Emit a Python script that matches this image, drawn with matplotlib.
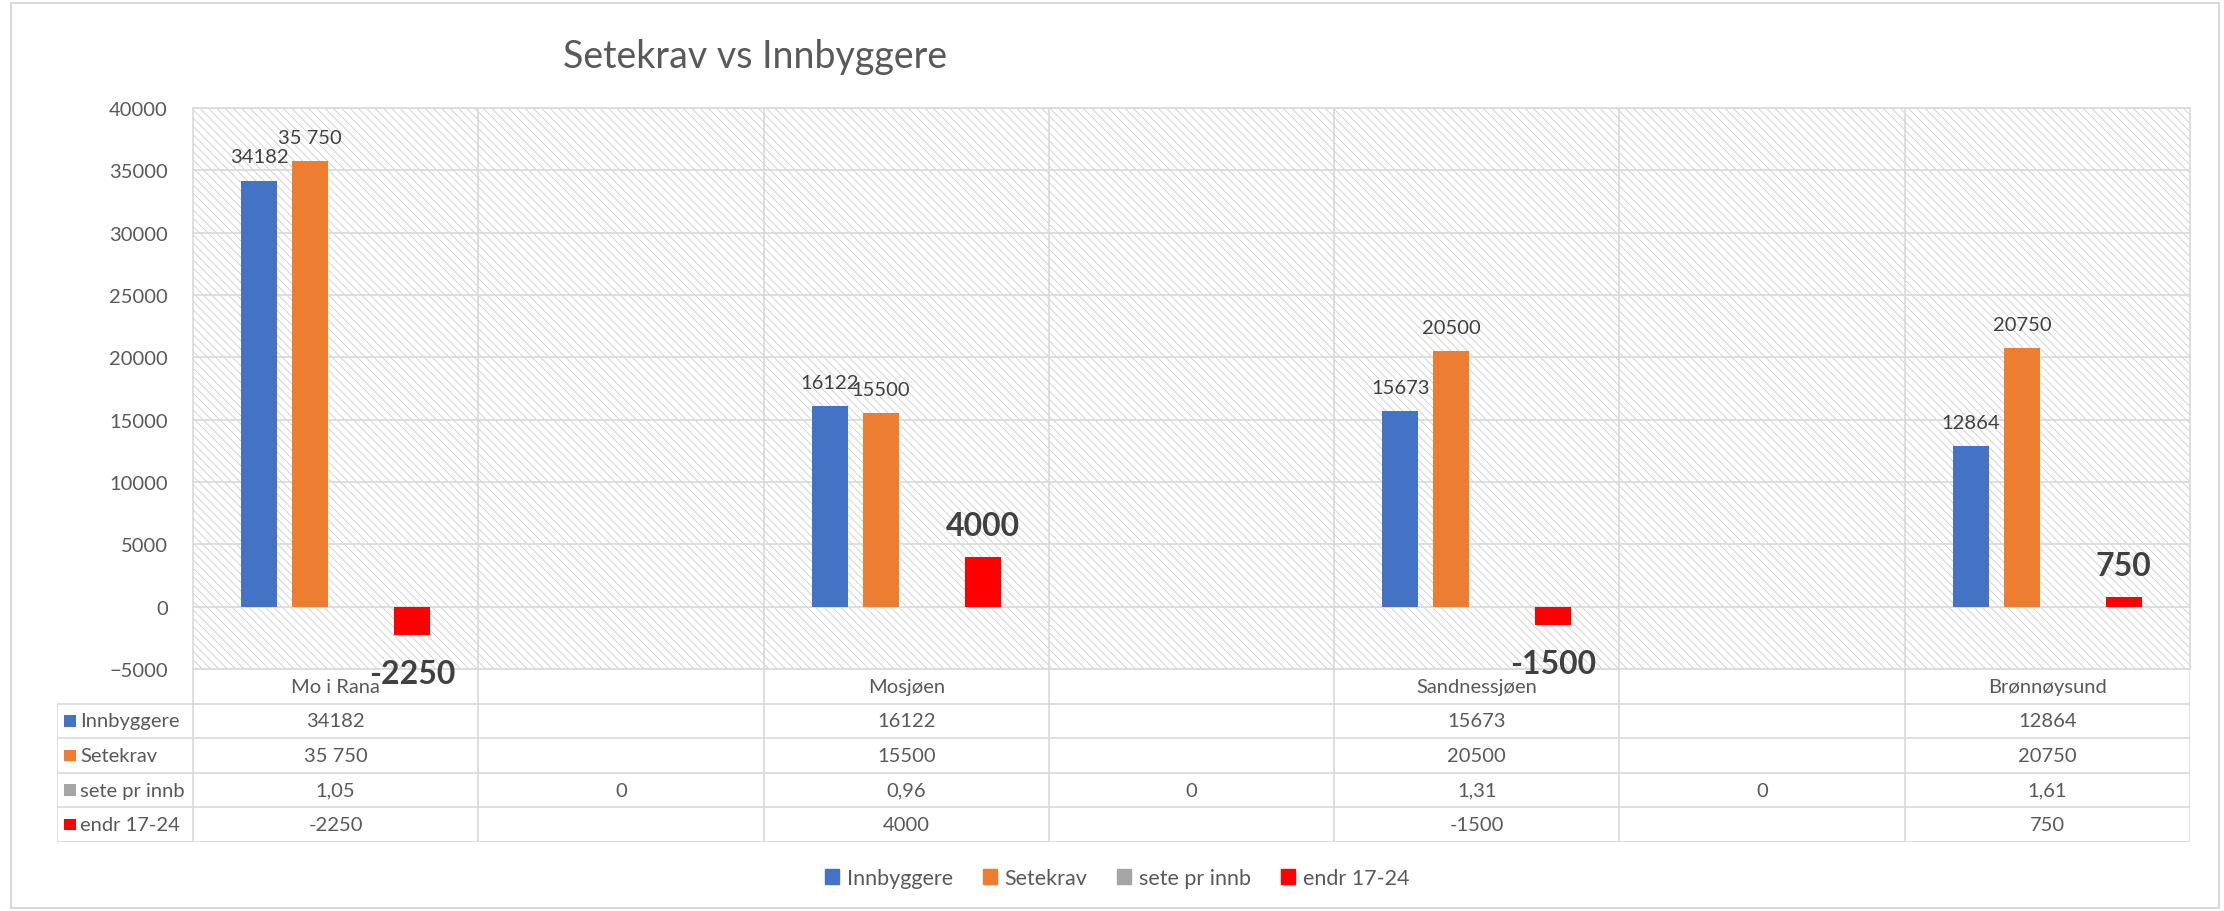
import numpy as np
import matplotlib.pyplot as plt
from matplotlib.patches import Rectangle, Patch

plt.rcParams['font.family'] = ['Lato', 'DejaVu Sans']
plt.rcParams['hatch.linewidth'] = 0.6
plt.rcParams['hatch.color'] = '#cccccc'

# data
categories = ['Mo i Rana', '', 'Mosjøen', '', 'Sandnessjøen', '', 'Brønnøysund']
series = ['Innbyggere', 'Setekrav', 'sete pr innb', 'endr 17-24']
innbyggere = [34182, np.nan, 16122, np.nan, 15673, np.nan, 12864]
setekrav = [35750, np.nan, 15500, np.nan, 20500, np.nan, 20750]
sete_pr_innb = [1.05, 0, 0.96, 0, 1.31, 0, 1.61]
endring = [-2250, np.nan, 4000, np.nan, -1500, np.nan, 750]

innbyggere_txt = ['34182', '', '16122', '', '15673', '', '12864']
setekrav_txt = ['35 750', '', '15500', '', '20500', '', '20750']
sete_txt = ['1,05', '0', '0,96', '0', '1,31', '0', '1,61']
endring_txt = ['-2250', '', '4000', '', '-1500', '', '750']

colors = ['#4472C4', '#ED7D31', '#A5A5A5', '#FF0000']
grid = '#d9d9d9'
txtcol = '#595959'

W, H = 2224, 912
fig = plt.figure(figsize=(W / 100, H / 100), dpi=100)


def box(l, t, r, b):
    return [l / W, 1 - b / H, (r - l) / W, (b - t) / H]


ax = fig.add_axes(box(193, 109, 2190, 670))
x = np.arange(len(categories))
step = 0.1786
width = 0.126

ax.add_patch(Rectangle((0, 0), 1, 1, transform=ax.transAxes, facecolor='white',
                       edgecolor='#cccccc', hatch='\\\\\\\\', lw=0, zorder=0))

values = [innbyggere, setekrav, sete_pr_innb, endring]
for i, (vals, c) in enumerate(zip(values, colors)):
    ax.bar(x + (i - 1.5) * step, vals, width, color=c, zorder=2)

# data labels
for i, (vals, labels) in enumerate([(innbyggere, innbyggere_txt), (setekrav, setekrav_txt)]):
    for j, (v, t) in enumerate(zip(vals, labels)):
        if t:
            ax.annotate(t, (x[j] + (i - 1.5) * step, v), xytext=(0, 13),
                        textcoords='offset points', ha='center', va='baseline',
                        fontsize=14.5, color='#404040')
for j, (v, t) in enumerate(zip(endring, endring_txt)):
    if t:
        dy = 16 if v > 0 else -34.5
        ax.annotate(t, (x[j] + 1.5 * step, v), xytext=(0, dy),
                    textcoords='offset points', ha='center', va='baseline',
                    fontsize=23, fontweight='bold', color='#404040',
                    annotation_clip=False)

ax.set_xlim(-0.5, 6.5)
ax.set_ylim(-5000, 40000)
ax.set_yticks(range(-5000, 40001, 5000))
ax.set_xticks([])
ax.yaxis.grid(True, color=grid, lw=1.2)
ax.set_axisbelow(True)
for k in range(1, 7):
    ax.axvline(k - 0.5, color=grid, lw=1.2, zorder=0.5)
for s in ax.spines.values():
    s.set_color(grid)
    s.set_linewidth(1.2)
ax.tick_params(axis='y', length=0, pad=18, labelsize=14.5, labelcolor=txtcol)

# data table
tax = fig.add_axes(box(57, 670, 2190, 843))
xl = -0.5 - 136 / 285.3
tax.set_xlim(xl, 6.5)
tax.set_ylim(5, 0)
tax.axis('off')
tax.hlines([1, 2, 3, 4, 5], xl, 6.5, color=grid, lw=1.2)
tax.vlines(np.arange(8) - 0.5, 0, 5, color=grid, lw=1.2)
tax.vlines(xl, 1, 5, color=grid, lw=1.2)

for j, c in enumerate(categories):
    tax.text(j, 0.5, c, ha='center', va='center', fontsize=14.5, color=txtcol)
rows = [innbyggere_txt, setekrav_txt, sete_txt, endring_txt]
for r, row in enumerate(rows):
    for j, t in enumerate(row):
        tax.text(j, r + 1.5, t, ha='center', va='center', fontsize=14.5, color=txtcol)
    tax.text(xl + 23 / 285.3, r + 1.5, series[r], ha='left', va='center',
             fontsize=14.5, color=txtcol)
tax.scatter([xl + 13 / 285.3] * 4, [1.5, 2.5, 3.5, 4.5], marker='s',
            s=(11.5 * 0.72) ** 2, c=colors, clip_on=False, linewidths=0)

fig.legend(handles=[Patch(color=c, label=s) for c, s in zip(colors, series)],
           loc='center', bbox_to_anchor=(1117 / W, 1 - 879 / H), ncol=4,
           frameon=False, fontsize=15.5, handlelength=0.65, handleheight=0.65,
           handletextpad=0.35, columnspacing=1.4, labelcolor=txtcol)

fig.text(755 / W, 1 - 68 / H, 'Setekrav vs Innbyggere', ha='center',
         va='baseline', fontsize=27, color=txtcol)

fig.add_artist(Rectangle((11 / W, 3 / H), (2219 - 11) / W, (908 - 3) / H,
                         transform=fig.transFigure, fill=False,
                         edgecolor=grid, lw=1.5))

fig.savefig('out.png', dpi=100)
